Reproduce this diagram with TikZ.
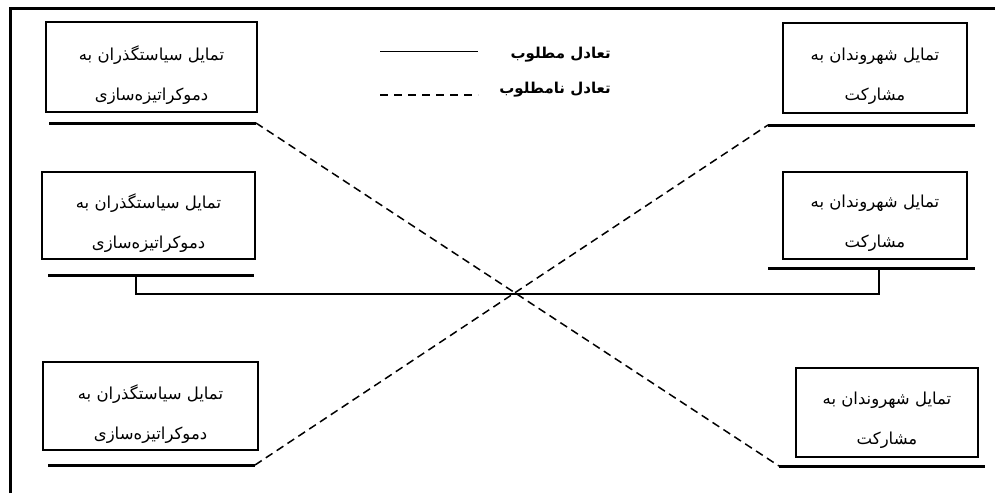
\documentclass[tikz,border=0pt]{standalone}
\usepackage{fontspec}
\newfontfamily\fa[Script=Arabic]{DejaVu Sans}
\TeXXeTstate=1
\begin{document}
\begin{tikzpicture}[x=1pt,y=-1pt,
  box/.style={draw, line width=1.8pt, inner sep=0pt},
  boxtext/.style={inner sep=0pt, align=center, yshift=-8pt,
    font=\fa\fontsize{16.5}{40}\selectfont},
  uline/.style={line width=3pt},
  dashln/.style={line width=1.5pt, dash pattern=on 8pt off 5pt},
  frameln/.style={line width=3pt},
  legtext/.style={anchor=east, inner sep=0pt, font=\fa\bfseries\fontsize{15}{17}\selectfont}]
\useasboundingbox (0,0) rectangle (995,493);
% frame
\coordinate (fa) at (10,493);
\coordinate (fb) at (10,8);
\coordinate (fc) at (995,8);
\draw[frameln] (fa) -- (fb) -- (fc);
% boxes
\node[box, minimum width=211pt, minimum height=90pt] (l1) at (151.5,67) {};
\node[box, minimum width=213pt, minimum height=87pt] (l2) at (148.5,215.5) {};
\node[box, minimum width=215pt, minimum height=88pt] (l3) at (150.5,406) {};
\node[box, minimum width=184pt, minimum height=90pt] (r1) at (875,68) {};
\node[box, minimum width=184pt, minimum height=87pt] (r2) at (875,215.5) {};
\node[box, minimum width=182pt, minimum height=89pt] (r3) at (887,412.5) {};
\foreach \b in {l1,l2,l3}
  \node[boxtext] (\b t) at (\b) {\beginR تمایل سیاستگذران به\endR\\ \beginR دموکراتیزه‌سازی\endR};
\foreach \b in {r1,r2,r3}
  \node[boxtext] (\b t) at (\b) {\beginR تمایل شهروندان به\endR\\ \beginR مشارکت\endR};
% underlines
\coordinate (l1a) at (49,123);  \coordinate (l1b) at (256,123);
\coordinate (l2a) at (48,275);  \coordinate (l2b) at (254,275);
\coordinate (l3a) at (48,465);  \coordinate (l3b) at (255,465);
\coordinate (r1a) at (768,125); \coordinate (r1b) at (975,125);
\coordinate (r2a) at (768,268); \coordinate (r2b) at (975,268);
\coordinate (r3a) at (779,466); \coordinate (r3b) at (985,466);
\draw[uline] (l1a) -- (l1b);
\draw[uline] (l2a) -- (l2b);
\draw[uline] (l3a) -- (l3b);
\draw[uline] (r1a) -- (r1b);
\draw[uline] (r2a) -- (r2b);
\draw[uline] (r3a) -- (r3b);
% connectors
\draw[dashln] (l1b) -- (r3a);
\draw[dashln] (l3b) -- (r1a);
\coordinate (l2m) at (136,275);
\coordinate (r2m) at (879,268);
\draw[line width=2.6pt] (l2m) -- (136,294) -| (r2m);
% legend
\coordinate (ls1) at (380,51); \coordinate (ls2) at (478,51);
\coordinate (ld1) at (380,95); \coordinate (ld2) at (478,95);
\draw[line width=1pt] (ls1) -- (ls2);
\draw[line width=1.5pt, dash pattern=on 8pt off 6pt] (ld1) -- (ld2);
\node[legtext] (lg1) at (611,55) {\beginR تعادل مطلوب\endR};
\node[legtext] (lg2) at (611,90) {\beginR تعادل نامطلوب\endR};
\end{tikzpicture}
\end{document}
